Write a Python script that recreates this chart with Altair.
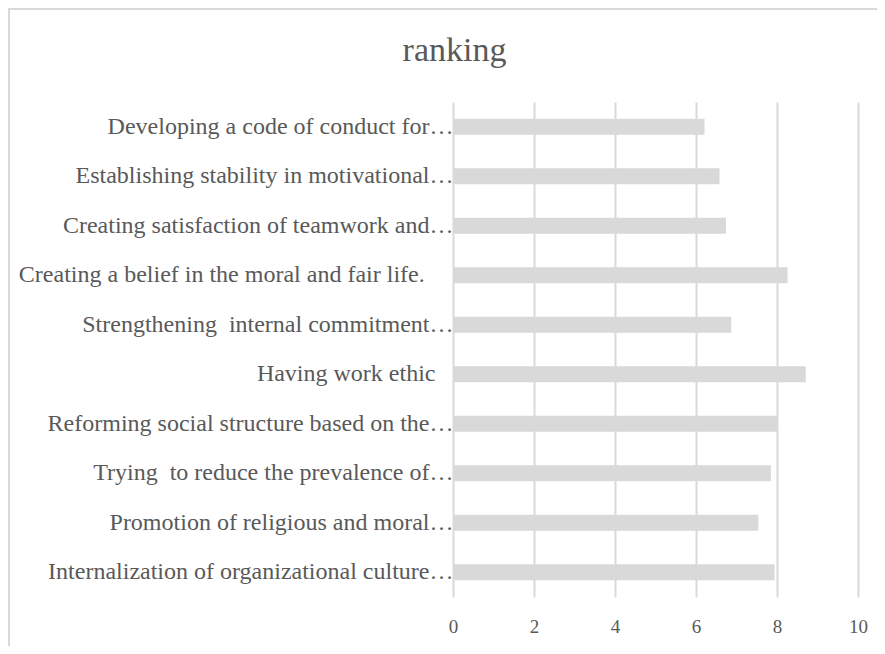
import altair as alt
import pandas as pd

NB = "\u00a0"
ZW = "\u200b"
categories = [
    "Developing a code of conduct for…",
    "Establishing stability in motivational…",
    "Creating satisfaction of teamwork and…",
    "Creating a belief in the moral and fair life." + NB * 4 + "\u2009" + ZW,
    "Strengthening " + NB + "internal commitment…",
    "Having work ethic" + NB * 3 + ZW,
    "Reforming social structure based on the…",
    "Trying " + NB + "to reduce the prevalence of…",
    "Promotion of religious and moral…",
    "Internalization of organizational culture…",
]
values = [6.21, 6.58, 6.74, 8.26, 6.87, 8.71, 8.02, 7.85, 7.54, 7.94]
x_ticks = [0, 2, 4, 6, 8, 10]

df = pd.DataFrame({"item": categories, "ranking": values})

FONT = "Liberation Serif"
TXT = "#595959"
GRID = "#d9d9d9"

bars = alt.Chart(df).mark_bar(color="#d9d9d9").encode(
    x=alt.X(
        "ranking:Q",
        scale=alt.Scale(domain=[0, 10], nice=False),
        axis=alt.Axis(
            values=x_ticks,
            title=None,
            grid=True,
            gridColor=GRID,
            gridWidth=2,
            domain=False,
            ticks=False,
            tickSize=0,
            labelFlush=False,
            labelPadding=20,
            labelFont=FONT,
            labelFontSize=19,
            labelColor=TXT,
        ),
    ),
    y=alt.Y(
        "item:N",
        sort=categories,
        scale=alt.Scale(paddingInner=0.68, paddingOuter=0.34),
        axis=alt.Axis(
            title=None,
            domain=False,
            ticks=False,
            tickSize=0,
            grid=False,
            labelPadding=0,
            labelLimit=600,
            labelFont=FONT,
            labelFontSize=24,
            labelColor=TXT,
        ),
    ),
)

border = alt.Chart(alt.Data(values=[{"a": 1}])).mark_rect(
    fill="transparent", stroke=GRID, strokeWidth=2, clip=False
).encode(
    x=alt.value(-444),
    x2=alt.value(460),
    y=alt.value(-93),
    y2=alt.value(600),
)

chart = alt.layer(border, bars).properties(
    width=405,
    height=495,
    autosize=alt.AutoSizeParams(type="none"),
    padding={"left": 445, "top": 94, "right": 19, "bottom": 49},
    title=alt.TitleParams(
        text="ranking",
        font=FONT,
        fontSize=34,
        fontWeight="normal",
        color=TXT,
        anchor="middle",
        frame="group",
        dx=-201,
        baseline="alphabetic",
        offset=-87,
    ),
).configure(
    background="white",
    view=alt.ViewConfig(stroke="transparent", strokeWidth=0),
)

chart.save("out.html", embed_options={"renderer": "svg", "actions": False})
